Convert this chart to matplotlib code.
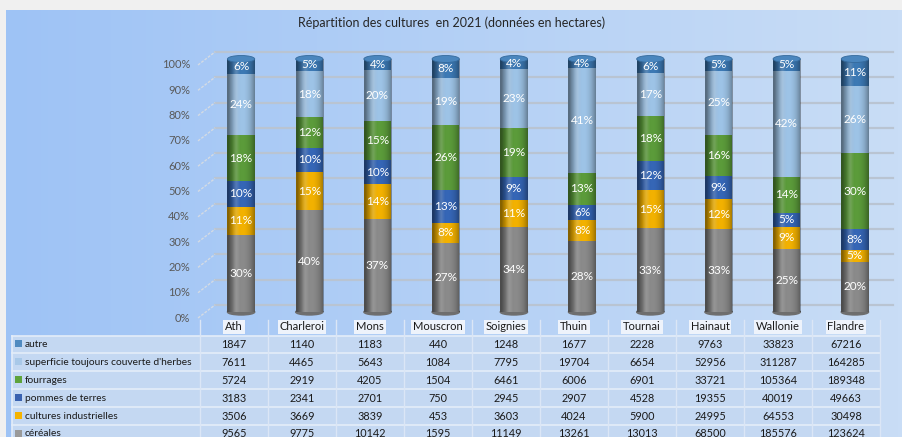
import matplotlib
matplotlib.use("Agg")
import matplotlib.pyplot as plt
import numpy as np
from matplotlib.patches import Ellipse, Rectangle

plt.rcParams["font.family"] = ["Lato", "DejaVu Sans"]

regions = ["Ath", "Charleroi", "Mons", "Mouscron", "Soignies", "Thuin",
           "Tournai", "Hainaut", "Wallonie", "Flandre"]
# table order, top to bottom
series = ["autre", "superficie toujours couverte d'herbes", "fourrages",
          "pommes de terres", "cultures industrielles", "céréales"]
autre = [1847, 1140, 1183, 440, 1248, 1677, 2228, 9763, 33823, 67216]
herbes = [7611, 4465, 5643, 1084, 7795, 19704, 6654, 52956, 311287, 164285]
fourrages = [5724, 2919, 4205, 1504, 6461, 6006, 6901, 33721, 105364, 189348]
pommes = [3183, 2341, 2701, 750, 2945, 2907, 4528, 19355, 40019, 49663]
industrielles = [3506, 3669, 3839, 453, 3603, 4024, 5900, 24995, 64553, 30498]
cereales = [9565, 9775, 10142, 1595, 11149, 13261, 13013, 68500, 185576, 123624]
values = [autre, herbes, fourrages, pommes, industrielles, cereales]

bar_colors = ["#3c79b4", "#9dc3e6", "#5b9b3a", "#3566b6", "#f2b100", "#8a8a8a"]
mark_colors = ["#4f8ac0", "#a8c8e8", "#5ea33c", "#3a62b0", "#f5b300", "#9a9a9a"]

W, H = 902, 437
fig = plt.figure(figsize=(W / 100, H / 100), dpi=100)
fig.patch.set_facecolor("#f0f0f0")


def fx(px):
    return px / W


def fy(py):
    return 1 - py / H


# gradient background of the chart area
bg = fig.add_axes([fx(6), 0, 1 - fx(6), fy(10)])
grad = np.linspace(0, 1, 256)
c0 = np.array([0x9e, 0xc3, 0xf5]) / 255
c1 = np.array([0xc9, 0xdd, 0xf6]) / 255
img = (c0[None, :] * (1 - grad[:, None]) + c1[None, :] * grad[:, None])[None, :, :]
bg.imshow(img, aspect="auto", extent=[0, 1, 0, 1])
bg.axis("off")

fig.text(fx(452), fy(23), "Répartition des cultures  en 2021 (données en hectares)",
         ha="center", va="center", fontsize=9, color="#262626")

# main plot, bars at middle depth
ax = fig.add_axes([fx(207), fy(312), fx(889) - fx(207), fy(59) - fy(312)])
ax.patch.set_alpha(0)
for s in ax.spines.values():
    s.set_visible(False)
ax.set_xticks([])
ax.set_yticks([])

px_x = 68.2
px_y = 2.53
x = np.arange(len(regions))
width = 0.4

# back wall grid + diagonal ticks
for k in range(11):
    yl = k * 10 - 6 / px_y
    yb = yl + 13 / px_y
    ax.plot([-0.5 + 8 / px_x, -0.5 + 686 / px_x], [yb, yb], color="#b9c4d2",
            lw=1.6, zorder=0, clip_on=False)
    ax.plot([-0.5 - 9 / px_x, -0.5 + 8 / px_x], [yl, yb], color="#d4dbe4",
            lw=1.0, ls=(0, (2, 1)), zorder=0, clip_on=False)
    ax.text(-0.5 - 17 / px_x, yl, f"{k * 10}%", ha="right", va="center",
            fontsize=8, color="#595959")

data = np.array(values, dtype=float)
totals = data.sum(axis=0)
pct = data / totals * 100

# stack from bottom: céréales first
bottoms = np.zeros(len(regions))
order = list(range(len(series)))[::-1]
for i in order:
    ax.bar(x, pct[i], width, bottom=bottoms, color=bar_colors[i], zorder=2)
    for j in range(len(regions)):
        ax.text(x[j], bottoms[j] + pct[i][j] / 2, f"{pct[i][j]:.0f}%",
                ha="center", va="center", fontsize=8.5, color="white", zorder=5)
    bottoms += pct[i]

# cylinder shading
u = np.linspace(-1, 1, 60)
shade = np.zeros((1, 60, 4))
alpha = np.clip(np.abs(u - 0.1) ** 2.2 * 0.45, 0, 0.45)
shade[0, :, 3] = alpha
hi = np.zeros((1, 60, 4))
hi[0, :, :3] = 1
hi[0, :, 3] = np.clip(0.18 - np.abs(u + 0.35) * 0.6, 0, 0.18)
for j in range(len(regions)):
    ax.imshow(shade, extent=[x[j] - width / 2, x[j] + width / 2, 0, 100],
              aspect="auto", zorder=3, interpolation="bilinear")
    ax.imshow(hi, extent=[x[j] - width / 2, x[j] + width / 2, 0, 100],
              aspect="auto", zorder=3, interpolation="bilinear")
    ax.add_patch(Ellipse((x[j], 0), width, 6 / px_y, color="#6e6e6e",
                         zorder=1.5, clip_on=False))
    ax.add_patch(Ellipse((x[j], 100), width, 7 / px_y, color="#4a86be",
                         ec="#356a9c", lw=0.6, zorder=4, clip_on=False))

ax.set_xlim(-0.5, len(regions) - 0.5)
ax.set_ylim(0, 100)

# data table (last row is cut by the bottom edge, as in the original)
tab_left, tab_split, tab_right = 12, 200, 880
col_w = (tab_right - tab_split) / len(regions)
row_top = 335.5
row_h = 17.9
n_rows = len(series)
tab = fig.add_axes([0, 0, 1, 1])
tab.set_xlim(0, W)
tab.set_ylim(H, 0)
tab.axis("off")
tab.add_patch(Rectangle((tab_left, row_top), tab_right - tab_left, row_h * n_rows + 10,
                        facecolor="#c4d8f2", edgecolor="none", zorder=0))
for r in range(n_rows + 1):
    yy = row_top + r * row_h
    tab.plot([tab_left, tab_right], [yy, yy], color="#e4edf9", lw=1.2, zorder=1)
tab.plot([tab_left, tab_left], [row_top, H], color="#e4edf9", lw=1.2, zorder=1)
for c in range(len(regions) + 1):
    xx = tab_split + c * col_w
    tab.plot([xx, xx], [row_top - 16, H], color="#dbe6f6", lw=1.0, zorder=1)

for c, name in enumerate(regions):
    cx = tab_split + (c + 0.5) * col_w
    tab.text(cx, 327, name, ha="center", va="center", fontsize=8, color="#1a1a1a",
             bbox=dict(boxstyle="square,pad=0.15", fc="#eef3fb", ec="none"), zorder=3)

for r, name in enumerate(series):
    cy = row_top + (r + 0.5) * row_h
    tab.add_patch(Rectangle((15, cy - 4), 7, 7, facecolor=mark_colors[r],
                            edgecolor="none", zorder=2))
    tab.text(25, cy, name, ha="left", va="center", fontsize=7.4, color="#1a1a1a", zorder=3)
    for c in range(len(regions)):
        cx = tab_split + (c + 0.5) * col_w
        tab.text(cx, cy, str(values[r][c]), ha="center", va="center", fontsize=7.8,
                 color="#1a1a1a", zorder=3)

fig.savefig("out.png", dpi=100)
